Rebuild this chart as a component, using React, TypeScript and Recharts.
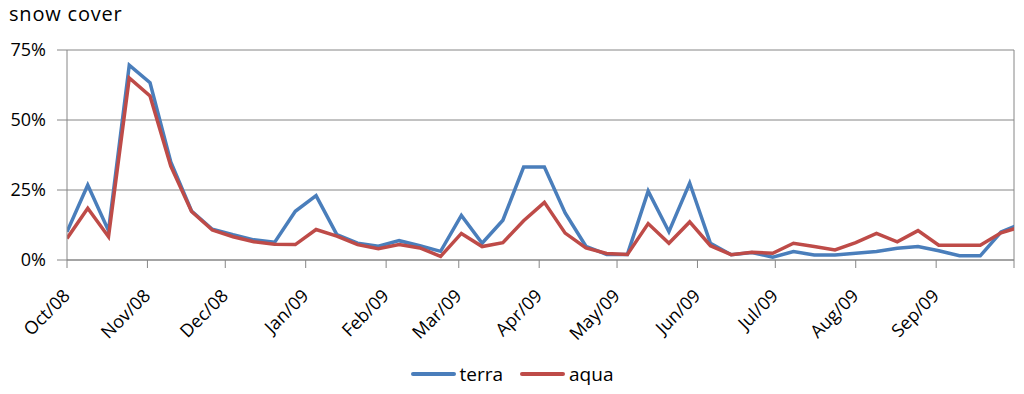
import { LineChart, Line, XAxis, YAxis, CartesianGrid, ReferenceLine, Legend } from "recharts";

const FONT = "'Open Sans', sans-serif";
const GRID = "#868686";

// 8-day composites
const dates = [
  "2008-10-01", "2008-10-09", "2008-10-17", "2008-10-25", "2008-11-02", "2008-11-10", "2008-11-18", "2008-11-26",
  "2008-12-04", "2008-12-12", "2008-12-20", "2008-12-28", "2009-01-05", "2009-01-13", "2009-01-21", "2009-01-29",
  "2009-02-06", "2009-02-14", "2009-02-22", "2009-03-02", "2009-03-10", "2009-03-18", "2009-03-26", "2009-04-03",
  "2009-04-11", "2009-04-19", "2009-04-27", "2009-05-05", "2009-05-13", "2009-05-21", "2009-05-29", "2009-06-06",
  "2009-06-14", "2009-06-22", "2009-06-30", "2009-07-08", "2009-07-16", "2009-07-24", "2009-08-01", "2009-08-09",
  "2009-08-17", "2009-08-25", "2009-09-02", "2009-09-10", "2009-09-18", "2009-09-26", "2009-10-04",
];

const terra = [
  10.1, 26.8, 10.5, 69.6, 63.3, 35, 17.5, 11, 9, 7.2, 6.3, 17.4, 23, 9.1, 6, 4.9,
  6.9, 5.1, 3.1, 15.9, 6, 14.2, 33.2, 33.2, 16.8, 4.9, 2, 2, 24.6, 10.1, 27.5, 6,
  1.9, 2.7, 1, 3, 1.8, 1.8, 2.4, 3, 4.2, 4.8, 3.3, 1.5, 1.5, 10, 13,
];

const aqua = [
  7.7, 18.5, 8.3, 65, 58.6, 33.5, 17.3, 10.7, 8.3, 6.5, 5.6, 5.5, 10.9, 8.5, 5.5, 4,
  5.5, 4.3, 1.3, 9.5, 4.8, 6.2, 14, 20.6, 9.6, 4.3, 2.3, 2, 13, 6, 13.6, 5.1,
  1.9, 2.8, 2.4, 6, 4.8, 3.6, 6.2, 9.5, 6.5, 10.5, 5.3, 5.3, 5.3, 9.7, 12,
];

const seriesNames = ["terra", "aqua"];

const monthStarts = [
  "2008-10-01", "2008-11-01", "2008-12-01", "2009-01-01", "2009-02-01", "2009-03-01", "2009-04-01",
  "2009-05-01", "2009-06-01", "2009-07-01", "2009-08-01", "2009-09-01", "2009-10-01",
];
const monthLabels = ["Oct/08", "Nov/08", "Dec/08", "Jan/09", "Feb/09", "Mar/09", "Apr/09", "May/09", "Jun/09", "Jul/09", "Aug/09", "Sep/09", ""];

const yTicks = [0, 25, 50, 75];

const dayOf = (s: string) => Math.round((Date.parse(s) - Date.parse(dates[0])) / 86400000);

const data = dates.map((d, i) => ({ day: dayOf(d), terra: terra[i], aqua: aqua[i] }));
const tickDays = monthStarts.map(dayOf);
const lastDay = tickDays[tickDays.length - 1];

const XTick = (props: any) => {
  const { x, y, payload } = props;
  const label = monthLabels[tickDays.indexOf(payload.value)] || "";
  return (
    <g transform={`translate(${x + 4},${y + 27})`}>
      <text transform="rotate(-45)" textAnchor="end" fill="#000" fontSize={18} fontFamily={FONT}>
        {label}
      </text>
    </g>
  );
};

const LegendBox = (props: any) => {
  const items = [...(props.payload || [])].sort(
    (a: any, b: any) => seriesNames.indexOf(a.value) - seriesNames.indexOf(b.value)
  );
  return (
    <div style={{ display: "flex", justifyContent: "center", alignItems: "center", fontFamily: FONT, fontSize: 19, lineHeight: "24px", color: "#000" }}>
      {items.map((it: any, i: number) => (
        <div key={it.value} style={{ display: "flex", alignItems: "center", marginLeft: i > 0 ? 17 : 0 }}>
          <span style={{ display: "inline-block", width: 45, height: 4, borderRadius: 2, background: it.color, marginRight: 4 }} />
          <span>{it.value}</span>
        </div>
      ))}
    </div>
  );
};

const App = () => {
  return (
    <div style={{ position: "absolute", left: 0, top: 0, width: 1024, height: 394, background: "#fff" }}>
      <div style={{ position: "absolute", left: 9, top: 0, fontFamily: FONT, fontSize: 20, letterSpacing: 0.8, lineHeight: "normal", color: "#000" }}>
        snow cover
      </div>
      <LineChart width={1024} height={394} data={data} margin={{ top: 50, right: 10, bottom: 0, left: 0 }}>
        <CartesianGrid vertical={false} stroke={GRID} />
        <XAxis
          dataKey="day"
          type="number"
          domain={[0, lastDay]}
          allowDataOverflow
          ticks={tickDays}
          interval={0}
          tick={<XTick />}
          tickSize={8}
          height={134}
          stroke={GRID}
        />
        <YAxis
          domain={[0, 75]}
          ticks={yTicks}
          tickFormatter={(v: number) => `${v}%`}
          width={67}
          tickSize={10}
          tickMargin={11}
          stroke={GRID}
          tick={{ fill: "#000", fontSize: 18, fontFamily: FONT }}
        />
        <ReferenceLine x={lastDay} stroke={GRID} />
        <Line type="linear" dataKey="terra" name="terra" stroke="#4A7EBB" strokeWidth={3.5} dot={false} isAnimationActive={false} />
        <Line type="linear" dataKey="aqua" name="aqua" stroke="#BE4B48" strokeWidth={3.5} dot={false} isAnimationActive={false} />
        <Legend verticalAlign="middle" align="center" wrapperStyle={{ top: 362, left: 0, width: 1024 }} content={<LegendBox />} />
      </LineChart>
    </div>
  );
};

export default App;
